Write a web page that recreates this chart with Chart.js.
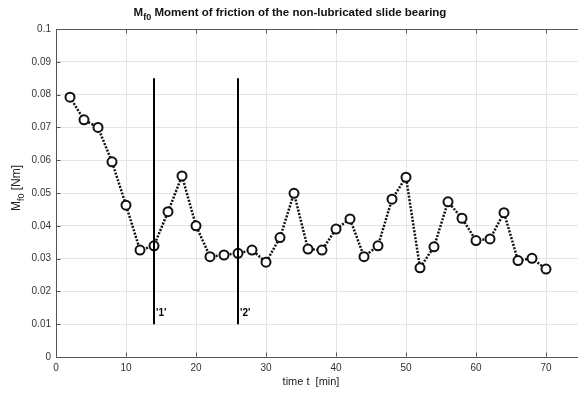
<!DOCTYPE html>
<html>
<head>
<meta charset="utf-8">
<script src="https://cdn.jsdelivr.net/npm/chart.js@4"></script>
<style>
  html, body { margin: 0; padding: 0; background: #fff; overflow: hidden; }
  canvas { display: block; }
</style>
</head>
<body>
<canvas id="frictionChart" width="590" height="396"></canvas>
<script>
// time in minutes, one sample every 2 min
const times = [2, 4, 6, 8, 10, 12, 14, 16, 18, 20, 22, 24, 26, 28, 30, 32, 34, 36,
  38, 40, 42, 44, 46, 48, 50, 52, 54, 56, 58, 60, 62, 64, 66, 68, 70];
// friction moment M_f0 [Nm]
const moments = [0.0792, 0.0723, 0.0700, 0.0595, 0.0463, 0.0326, 0.0339, 0.0443, 0.0552,
  0.0400, 0.0306, 0.0311, 0.0316, 0.0326, 0.0289, 0.0364, 0.0499, 0.0329, 0.0326,
  0.0390, 0.0421, 0.0306, 0.0339, 0.0481, 0.0548, 0.0272, 0.0336, 0.0473, 0.0423,
  0.0355, 0.0360, 0.0440, 0.0294, 0.0301, 0.0268];

const markerTimes = [14, 26];
const markerLabels = ["'1'", "'2'"];
const markerRange = [0.01, 0.085];

const xTicks = [0, 10, 20, 30, 40, 50, 60, 70];
const yTicks = [0, 0.01, 0.02, 0.03, 0.04, 0.05, 0.06, 0.07, 0.08, 0.09, 0.1];
const yTickLabels = ['0', '0.01', '0.02', '0.03', '0.04', '0.05', '0.06', '0.07', '0.08', '0.09', '0.1'];

const FONT = '"Liberation Sans", Arial, sans-serif';

function drawWithSub(ctx, parts, cx, cy, size, bold) {
  // parts: [[text, isSub], ...] drawn centred on cx
  const weight = bold ? 'bold ' : '';
  const mainFont = `${weight}${size}px ${FONT}`;
  const subFont = `${weight}${Math.round(size * 0.75)}px ${FONT}`;
  let total = 0;
  parts.forEach(([txt, sub]) => {
    ctx.font = sub ? subFont : mainFont;
    total += ctx.measureText(txt).width;
  });
  let x = cx - total / 2;
  ctx.textAlign = 'left';
  ctx.textBaseline = 'middle';
  parts.forEach(([txt, sub]) => {
    ctx.font = sub ? subFont : mainFont;
    ctx.fillText(txt, x, sub ? cy + size * 0.4 : cy);
    x += ctx.measureText(txt).width;
  });
}

const overlay = {
  id: 'overlay',
  afterDraw(chart) {
    const { ctx, chartArea, scales: { x, y } } = chart;
    const top = Math.round(chartArea.top) + 0.5;
    const bottom = Math.round(chartArea.bottom) - 0.5;
    const left = Math.round(chartArea.left) + 0.5;
    ctx.save();

    // top edge of the axes box
    ctx.strokeStyle = '#555';
    ctx.lineWidth = 1;
    ctx.beginPath();
    ctx.moveTo(chartArea.left, top);
    ctx.lineTo(chartArea.right, top);
    // small inward ticks, matlab style
    xTicks.forEach((v) => {
      const px = Math.round(x.getPixelForValue(v)) + 0.5;
      ctx.moveTo(px, bottom); ctx.lineTo(px, bottom - 4);
      ctx.moveTo(px, top); ctx.lineTo(px, top + 4);
    });
    yTicks.forEach((v) => {
      const py = Math.round(y.getPixelForValue(v)) + 0.5;
      ctx.moveTo(left, py); ctx.lineTo(left + 4, py);
    });
    ctx.stroke();

    // labels next to the marker lines
    ctx.fillStyle = '#000';
    ctx.font = `bold 10px ${FONT}`;
    ctx.textAlign = 'left';
    ctx.textBaseline = 'middle';
    markerTimes.forEach((t, i) => {
      ctx.fillText(markerLabels[i], x.getPixelForValue(t) + 2, y.getPixelForValue(0.0132));
    });

    // title
    ctx.fillStyle = '#111';
    drawWithSub(ctx, [['M', false], ['f0', true], [' Moment of friction of the non-lubricated slide bearing', false]], 290, 13, 11.5, true);

    // x axis title
    ctx.fillStyle = '#222';
    drawWithSub(ctx, [['time t  [min]', false]], 311, 382, 11, false);

    // y axis title (rotated)
    ctx.save();
    ctx.translate(17, 188);
    ctx.rotate(-Math.PI / 2);
    ctx.fillStyle = '#222';
    drawWithSub(ctx, [['M', false], ['f0', true], [' [Nm]', false]], 0, 0, 12, false);
    ctx.restore();

    ctx.restore();
  }
};

const markerSets = markerTimes.map((t) => ({
  data: markerRange.map((v) => ({ x: t, y: v })),
  borderColor: '#000',
  borderWidth: 2,
  pointRadius: 0,
  showLine: true,
  order: 0
}));

new Chart(document.getElementById('frictionChart'), {
  type: 'scatter',
  data: {
    datasets: [
      {
        data: times.map((t, i) => ({ x: t, y: moments[i] })),
        showLine: true,
        borderColor: '#111',
        borderWidth: 2.5,
        borderDash: [2, 1.5],
        pointRadius: 4.5,
        pointBorderWidth: 2,
        pointBorderColor: '#111',
        pointBackgroundColor: '#fff',
        order: 1
      },
      ...markerSets
    ]
  },
  options: {
    responsive: false,
    animation: false,
    layout: { padding: { top: 29, right: 9, left: 0, bottom: 0 } },
    plugins: {
      legend: { display: false },
      tooltip: { enabled: false }
    },
    scales: {
      x: {
        type: 'linear',
        min: 0,
        max: 75,
        afterBuildTicks: (s) => { s.ticks = xTicks.map((v) => ({ value: v })); },
        afterFit: (s) => { s.height = 39; },
        grid: { color: '#e4e4e4', drawTicks: false },
        border: { color: '#555', width: 1 },
        ticks: {
          padding: 5,
          maxRotation: 0,
          color: '#333',
          font: { family: FONT, size: 10 },
          callback: (v) => String(v)
        }
      },
      y: {
        min: 0,
        max: 0.1,
        afterBuildTicks: (s) => { s.ticks = yTicks.map((v) => ({ value: v })); },
        afterFit: (s) => { s.width = 56; },
        grid: { color: '#e4e4e4', drawTicks: false },
        border: { color: '#555', width: 1 },
        ticks: {
          padding: 5,
          color: '#333',
          font: { family: FONT, size: 10 },
          callback: (v, i) => yTickLabels[i]
        }
      }
    }
  },
  plugins: [overlay]
});
</script>
</body>
</html>
